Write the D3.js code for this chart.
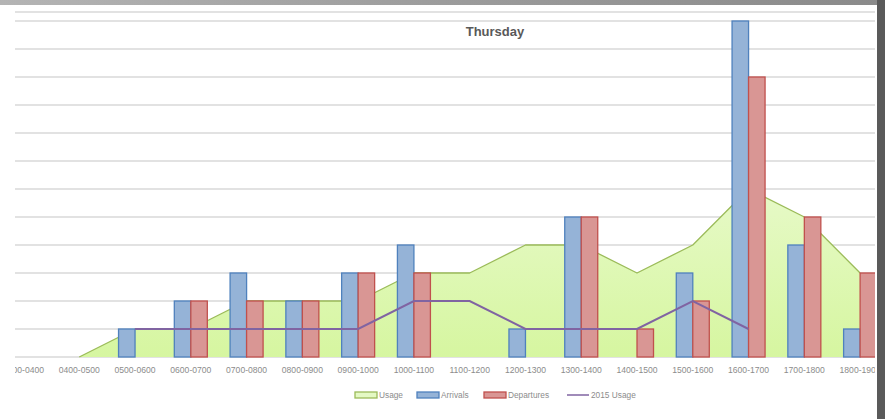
<!DOCTYPE html>
<html>
<head>
<meta charset="utf-8">
<script src="https://cdn.jsdelivr.net/npm/d3@7"></script>
<style>
  body { margin: 0; background: #fff; }
  svg { display: block; font-family: "Liberation Sans", Arial, sans-serif; }
</style>
</head>
<body>
<svg id="chart" width="885" height="419"></svg>
<script>
// data
var categories = ["0300-0400", "0400-0500", "0500-0600", "0600-0700", "0700-0800", "0800-0900",
  "0900-1000", "1000-1100", "1100-1200", "1200-1300", "1300-1400", "1400-1500",
  "1500-1600", "1600-1700", "1700-1800", "1800-1900"];
var usage      = [0, 0, 1, 1, 2, 2, 2, 3, 3, 4, 4, 3, 4, 6, 5, 3];
var arrivals   = [0, 0, 1, 2, 3, 2, 3, 4, 0, 1, 5, 0, 3, 12, 4, 1];
var departures = [0, 0, 0, 2, 2, 2, 3, 3, 0, 0, 5, 1, 2, 10, 5, 3];
var usage2015  = [null, null, 1, 1, 1, 1, 1, 2, 2, 1, 1, 1, 2, 1, null, null];
var yTicks = [0, 1, 2, 3, 4, 5, 6, 7, 8, 9, 10, 11, 12];

var svg = d3.select("#chart");

var plotLeft = 15, plotRight = 875;
var x = d3.scaleBand().domain(categories).range([-4.4, 888]).padding(0);
var y = d3.scaleLinear().domain([0, 12]).range([357, 21]);
var bw = 16.5;

var defs = svg.append("defs");
defs.append("clipPath").attr("id", "clip")
  .append("rect").attr("x", plotLeft).attr("y", 0).attr("width", plotRight - plotLeft).attr("height", 419);

var grad = defs.append("linearGradient").attr("id", "usageFill")
  .attr("gradientUnits", "userSpaceOnUse")
  .attr("x1", 0).attr("x2", 0).attr("y1", y(12)).attr("y2", y(0));
grad.append("stop").attr("offset", "0%").attr("stop-color", "#f7fdef");
grad.append("stop").attr("offset", "100%").attr("stop-color", "#d6f6a0");

var topGrad = defs.append("linearGradient").attr("id", "topBar");
topGrad.append("stop").attr("offset", "0%").attr("stop-color", "#b4b4b4");
topGrad.append("stop").attr("offset", "50%").attr("stop-color", "#9c9c9c");
topGrad.append("stop").attr("offset", "100%").attr("stop-color", "#8a8a8a");

var g = svg.append("g").attr("clip-path", "url(#clip)");

// chart border line on top
g.append("line")
  .attr("x1", plotLeft).attr("x2", plotRight)
  .attr("y1", 12).attr("y2", 12)
  .attr("stroke", "#d9d9d9").attr("stroke-width", 1.3);

// gridlines
g.selectAll(".grid")
  .data(yTicks)
  .enter().append("line")
  .attr("class", "grid")
  .attr("x1", plotLeft).attr("x2", plotRight)
  .attr("y1", function(d) { return y(d); })
  .attr("y2", function(d) { return y(d); })
  .attr("stroke", "#d9d9d9")
  .attr("stroke-width", 1.3);

var cx = function(i) { return x(categories[i]) + x.bandwidth() / 2; };

// usage area (fill) and its top edge
var area = d3.area()
  .x(function(d, i) { return cx(i); })
  .y0(y(0))
  .y1(function(d) { return y(d); });
g.append("path")
  .datum(usage)
  .attr("d", area)
  .attr("fill", "url(#usageFill)");

var edge = d3.line()
  .defined(function(d, i) { return i >= 1; })
  .x(function(d, i) { return cx(i); })
  .y(function(d) { return y(d); });
g.append("path")
  .datum(usage)
  .attr("d", edge)
  .attr("fill", "none")
  .attr("stroke", "#9bbb59")
  .attr("stroke-width", 1.3)
  .attr("stroke-linejoin", "round");

// bars
g.selectAll(".arr")
  .data(arrivals)
  .enter().append("rect")
  .attr("class", "arr")
  .attr("x", function(d, i) { return cx(i) - bw; })
  .attr("y", function(d) { return y(d); })
  .attr("width", bw)
  .attr("height", function(d) { return y(0) - y(d); })
  .attr("fill", "#95b3d7")
  .attr("stroke", "#4f81bd")
  .attr("stroke-width", 1.3)
  .style("display", function(d) { return d > 0 ? null : "none"; });

g.selectAll(".dep")
  .data(departures)
  .enter().append("rect")
  .attr("class", "dep")
  .attr("x", function(d, i) { return cx(i); })
  .attr("y", function(d) { return y(d); })
  .attr("width", bw)
  .attr("height", function(d) { return y(0) - y(d); })
  .attr("fill", "#d99694")
  .attr("stroke", "#c0504d")
  .attr("stroke-width", 1.3)
  .style("display", function(d) { return d > 0 ? null : "none"; });

// 2015 usage line
var line = d3.line()
  .defined(function(d) { return d != null; })
  .x(function(d, i) { return cx(i); })
  .y(function(d) { return y(d); });
g.append("path")
  .datum(usage2015)
  .attr("d", line)
  .attr("fill", "none")
  .attr("stroke", "#8064a2")
  .attr("stroke-width", 2);

// x axis labels
g.append("g")
  .attr("transform", "translate(0," + y(0) + ")")
  .call(d3.axisBottom(x).tickSize(0).tickPadding(10))
  .call(function(s) {
    s.select(".domain").remove();
    s.selectAll("text").attr("fill", "#8c8c8c").attr("font-size", "8.6px")
      .attr("font-family", "Liberation Sans, Arial, sans-serif");
  });

// title
svg.append("text")
  .attr("x", 495).attr("y", 36)
  .attr("text-anchor", "middle")
  .attr("font-size", "13px")
  .attr("font-weight", "bold")
  .attr("fill", "#595959")
  .text("Thursday");

// legend
var legend = [
  { name: "Usage", type: "box", fill: "#e4f9c4", stroke: "#9bbb59", x: 355 },
  { name: "Arrivals", type: "box", fill: "#95b3d7", stroke: "#4f81bd", x: 417 },
  { name: "Departures", type: "box", fill: "#d99694", stroke: "#c0504d", x: 484 },
  { name: "2015 Usage", type: "line", stroke: "#8064a2", x: 567 }
];
var lg = svg.append("g").selectAll("g").data(legend).enter().append("g")
  .attr("transform", function(d) { return "translate(" + d.x + ",395)"; });
lg.filter(function(d) { return d.type == "box"; }).append("rect")
  .attr("x", 0).attr("y", -3).attr("width", 22).attr("height", 6)
  .attr("fill", function(d) { return d.fill; })
  .attr("stroke", function(d) { return d.stroke; })
  .attr("stroke-width", 1.3);
lg.filter(function(d) { return d.type == "line"; }).append("line")
  .attr("x1", 0).attr("x2", 22).attr("y1", 0).attr("y2", 0)
  .attr("stroke", function(d) { return d.stroke; })
  .attr("stroke-width", 1.5);
lg.append("text")
  .attr("x", 24).attr("y", 3)
  .attr("font-size", "8.3px")
  .attr("fill", "#8c8c8c")
  .text(function(d) { return d.name; });

// window edges around the cropped chart
svg.append("rect").attr("x", 0).attr("y", 0).attr("width", 885).attr("height", 5)
  .attr("fill", "url(#topBar)");
svg.append("rect").attr("x", 877).attr("y", 0).attr("width", 8).attr("height", 419)
  .attr("fill", "#5a5a5a");
</script>
</body>
</html>
